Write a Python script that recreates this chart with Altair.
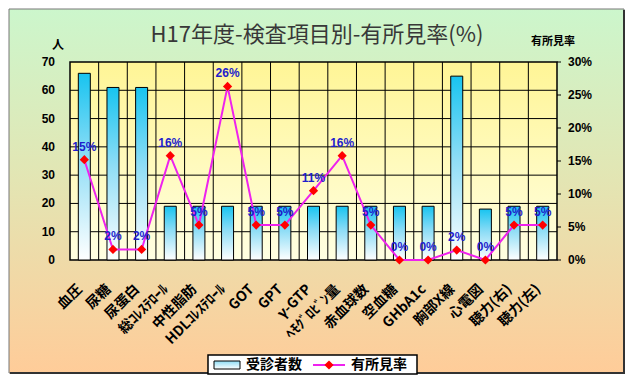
import altair as alt
import pandas as pd

categories = ["血圧", "尿糖", "尿蛋白", "総ｺﾚｽﾃﾛｰﾙ", "中性脂肪", "HDLｺﾚｽﾃﾛｰﾙ", "GOT", "GPT",
              "γ-GTP", "ﾍﾓｸﾞﾛﾋﾞﾝ量", "赤血球数", "空血糖", "GHbA1c", "胸部X線", "心電図",
              "聴力(右)", "聴力(左)"]
examinees = [66, 61, 61, 19, 19, 19, 19, 19, 19, 19, 19, 19, 19, 65, 18, 19, 19]
finding_rate = [15.2, 1.6, 1.6, 15.8, 5.3, 26.3, 5.3, 5.3, 10.5, 15.8, 5.3, 0, 0, 1.5, 0, 5.3, 5.3]
rate_labels = ["15%", "2%", "2%", "16%", "5%", "26%", "5%", "5%", "11%", "16%", "5%",
               "0%", "0%", "2%", "0%", "5%", "5%"]
left_ticks = [0, 10, 20, 30, 40, 50, 60, 70]
right_ticks = [0, 5, 10, 15, 20, 25, 30]
right_tick_labels = ["0%", "5%", "10%", "15%", "20%", "25%", "30%"]

title_text = "H17年度-検査項目別-有所見率(%)"
left_unit = "人"
right_unit = "有所見率"
legend_bar = "受診者数"
legend_line = "有所見率"

W, H = 487, 198
PL, PT, PR, PB = 62, 54, 69, 115

df = pd.DataFrame({"cat": categories, "n": examinees, "rate": finding_rate, "lab": rate_labels})
one = pd.DataFrame({"a": [0]})

xs = alt.Scale(type="band", domain=categories, paddingInner=0, paddingOuter=0)
ys_left = alt.Scale(domain=[0, 70], nice=False)
ys_right = alt.Scale(domain=[0, 30], nice=False)


def grad(stops):
    return alt.LinearGradient(
        gradient="linear",
        stops=[alt.GradientStop(color=c, offset=o) for o, c in stops],
        x1=0, x2=0, y1=0, y2=1)


def xenc():
    return alt.X("cat:N", scale=xs, sort=categories, axis=None, bandPosition=0.5)


outer_bg = alt.Chart(one).mark_rect(
    color=grad([(0, "#CCF6CC"), (0.45, "#E2E6B4"), (1, "#FFCC99")]),
    stroke="#777777", strokeWidth=1
).encode(x=alt.value(-61), x2=alt.value(PR + W - 2), y=alt.value(-53), y2=alt.value(H + PB - 2))

shadow_r = alt.Chart(one).mark_rule(color="#333333", strokeWidth=2).encode(
    x=alt.value(PR + W - 2), y=alt.value(-52), y2=alt.value(H + PB - 1))
shadow_b = alt.Chart(one).mark_rule(color="#333333", strokeWidth=2).encode(
    x=alt.value(-60), x2=alt.value(PR + W - 1), y=alt.value(H + PB - 2))

plot_bg = alt.Chart(one).mark_rect(
    color=grad([(0, "#FFF596"), (1, "#FFFFE2")]),
    stroke="black", strokeWidth=1.5
).encode(x=alt.value(0), x2=alt.value(W), y=alt.value(0), y2=alt.value(H))

# ---- left scale layer
vgrid = alt.Chart(pd.DataFrame({"cat": categories[1:]})).mark_rule(color="black", strokeWidth=1).encode(
    x=alt.X("cat:N", bandPosition=0, scale=xs, sort=categories, axis=None))
hgrid = alt.Chart(pd.DataFrame({"v": left_ticks[1:-1]})).mark_rule(color="black", strokeWidth=1).encode(
    y=alt.Y("v:Q", scale=ys_left, axis=None))

bars = alt.Chart(df).mark_bar(
    width=12,
    color=grad([(0, "#18C4F0"), (0.45, "#8EDDF6"), (1, "#FFFFFF")]),
    stroke="black", strokeWidth=1
).encode(
    x=alt.X("cat:N", scale=xs, sort=categories, axis=None),
    y=alt.Y("n:Q", scale=ys_left, axis=None)
)

left_labels = alt.Chart(pd.DataFrame({"v": left_ticks})).mark_text(
    font="Liberation Sans", fontWeight="bold", fontSize=12, color="black",
    align="right", baseline="middle"
).encode(x=alt.value(-15), y=alt.Y("v:Q", scale=ys_left, axis=None), text=alt.Text("v:Q"))

x_labels = alt.Chart(pd.DataFrame({"cat": categories})).mark_text(
    font="Noto Sans CJK JP", fontWeight="bold", fontSize=14, color="black",
    align="right", baseline="middle", angle=315, dx=-6
).encode(x=xenc(), y=alt.value(H + 23), text="cat:N")

left_layer = alt.layer(vgrid, hgrid, bars, left_labels, x_labels)

# ---- right scale layer
line = alt.Chart(df).mark_line(color="#EE22EE", strokeWidth=2).encode(
    x=xenc(), y=alt.Y("rate:Q", scale=ys_right, axis=None))
pts = alt.Chart(df).mark_point(shape="diamond", filled=True, size=85, color="#FF0000", opacity=1).encode(
    x=xenc(), y=alt.Y("rate:Q", scale=ys_right, axis=None))
labs = alt.Chart(df).mark_text(dy=-13, fontWeight="bold", fontSize=12, font="Liberation Sans",
                                color="#1E1ECC").encode(
    x=xenc(), y=alt.Y("rate:Q", scale=ys_right, axis=None), text="lab:N")

rdf = pd.DataFrame({"v": right_ticks, "t": right_tick_labels})
right_ticks_m = alt.Chart(rdf).mark_rule(color="black", strokeWidth=1).encode(
    x=alt.value(W), x2=alt.value(W + 4), y=alt.Y("v:Q", scale=ys_right, axis=None))
right_labels = alt.Chart(rdf).mark_text(
    font="Liberation Sans", fontWeight="bold", fontSize=12, color="black",
    align="left", baseline="middle"
).encode(x=alt.value(W + 11), y=alt.Y("v:Q", scale=ys_right, axis=None), text="t:N")

right_layer = alt.layer(line, pts, labs, right_ticks_m, right_labels)

# ---- texts
title = alt.Chart(one).mark_text(font="Noto Sans CJK JP", fontSize=22, color="#383838",
                                 align="center", baseline="middle").encode(
    x=alt.value(247), y=alt.value(-27), text=alt.value(title_text))
unit_l = alt.Chart(one).mark_text(font="Noto Sans CJK JP", fontSize=12, fontWeight="bold",
                                  color="black", align="center", baseline="middle").encode(
    x=alt.value(-12), y=alt.value(-17), text=alt.value(left_unit))
unit_r = alt.Chart(one).mark_text(font="Noto Sans CJK JP", fontSize=11, fontWeight="bold",
                                  color="black", align="center", baseline="middle").encode(
    x=alt.value(483), y=alt.value(-20), text=alt.value(right_unit))

# ---- legend
leg_box = alt.Chart(one).mark_rect(color="white", stroke="black", strokeWidth=1.5).encode(
    x=alt.value(138), x2=alt.value(347), y=alt.value(293), y2=alt.value(312))
leg_sw = alt.Chart(one).mark_rect(
    color=grad([(0, "#8EDDF6"), (1, "#FFFFFF")]), stroke="black", strokeWidth=1).encode(
    x=alt.value(144), x2=alt.value(170), y=alt.value(299), y2=alt.value(307))
leg_t1 = alt.Chart(one).mark_text(font="Noto Sans CJK JP", fontSize=14, fontWeight="bold",
                                  color="black", align="left", baseline="middle").encode(
    x=alt.value(176), y=alt.value(303), text=alt.value(legend_bar))
leg_ln = alt.Chart(one).mark_rule(color="#EE22EE", strokeWidth=2).encode(
    x=alt.value(243), x2=alt.value(275), y=alt.value(303))
leg_pt = alt.Chart(one).mark_point(shape="diamond", filled=True, size=85, color="#FF0000", opacity=1).encode(
    x=alt.value(259), y=alt.value(303))
leg_t2 = alt.Chart(one).mark_text(font="Noto Sans CJK JP", fontSize=14, fontWeight="bold",
                                  color="black", align="left", baseline="middle").encode(
    x=alt.value(281), y=alt.value(303), text=alt.value(legend_line))

chart = alt.layer(
    outer_bg, shadow_r, shadow_b, plot_bg, left_layer, right_layer,
    title, unit_l, unit_r, leg_box, leg_sw, leg_t1, leg_ln, leg_pt, leg_t2
).resolve_scale(y="independent").properties(
    width=W, height=H,
    autosize=alt.AutoSizeParams(type="none"),
    padding={"left": PL, "top": PT, "right": PR, "bottom": PB},
    background="white"
).configure_view(stroke=None)

chart.save("out.html", embed_options={"renderer": "svg", "actions": False})
